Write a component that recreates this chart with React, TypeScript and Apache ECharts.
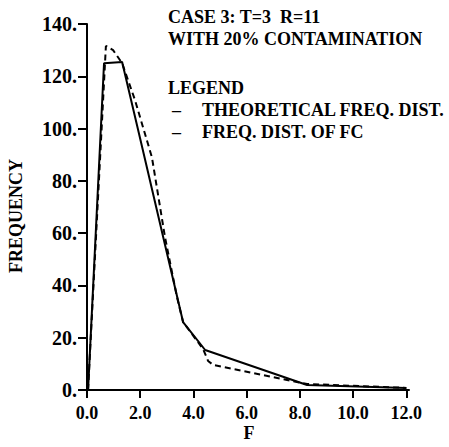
import React, { useEffect, useRef } from "react";
import * as echarts from "echarts";

// Theoretical frequency distribution (solid)
const theoF = [0.04, 0.64, 1.32, 1.99, 3.61, 4.44, 8.27, 12.0];
const theoFreq = [0, 125, 125.5, 96.5, 26, 15.3, 1.9, 0.8];

// Frequency distribution of FC (dashed)
const fcF = [0.04, 0.71, 0.98, 1.32, 1.8, 2.44, 2.93, 3.38, 3.61, 4.36, 4.55, 4.74, 8.27, 12.0];
const fcFreq = [0, 131.6, 130, 125, 111, 89, 58.5, 35.6, 26, 15.7, 11.1, 9.6, 2.3, 0.8];

const xTicks = [0, 2, 4, 6, 8, 10, 12];
const titleLines = ["CASE 3: T=3  R=11", "WITH 20% CONTAMINATION"];
const legendTitle = "LEGEND";
const legendItems = ["THEORETICAL FREQ. DIST.", "FREQ. DIST. OF FC"];
const yName = "FREQUENCY";
const xName = "F";

const FONT = "Liberation Serif";

export default function App() {
  const ref = useRef<HTMLDivElement>(null);
  useEffect(() => {
    if (!ref.current) return;
    const chart = echarts.init(ref.current, null, { renderer: "svg" });
    const txt = (text: string, x: number, y: number, extra: any = {}) => ({
      type: "text",
      x,
      y,
      ...extra,
      style: {
        text,
        fill: "#000",
        font: `bold 18px "${FONT}"`,
        textAlign: extra.align || "left",
        align: extra.align || "left",
        textVerticalAlign: "middle",
        verticalAlign: "middle",
      },
    });
    chart.setOption({
      animation: false,
      backgroundColor: "#fff",
      grid: { left: 87, top: 24, width: 322, height: 366 },
      xAxis: {
        type: "value",
        min: 0,
        max: 12.1,
        axisLine: { show: true, lineStyle: { color: "#000", width: 2 } },
        axisTick: { show: true, length: 8, lineStyle: { color: "#000", width: 2 }, customValues: xTicks },
        axisLabel: {
          customValues: xTicks,
          margin: 14,
          color: "#000",
          fontFamily: FONT,
          fontWeight: "bold",
          fontSize: 18,
          formatter: (v: number) => v.toFixed(1),
        },
        splitLine: { show: false },
      },
      yAxis: {
        type: "value",
        min: 0,
        max: 140,
        interval: 20,
        axisLine: { show: true, lineStyle: { color: "#000", width: 2 } },
        axisTick: { show: true, length: 9, lineStyle: { color: "#000", width: 2 } },
        axisLabel: {
          margin: 10,
          color: "#000",
          fontFamily: FONT,
          fontWeight: "bold",
          fontSize: 20,
          formatter: (v: number) => `${v}.`,
        },
        splitLine: { show: false },
      },
      series: [
        {
          type: "line",
          data: theoF.map((f, i) => [f, theoFreq[i]]),
          showSymbol: false,
          symbol: "none",
          lineStyle: { color: "#000", width: 2 },
          z: 3,
        },
        {
          type: "line",
          data: fcF.map((f, i) => [f, fcFreq[i]]),
          showSymbol: false,
          symbol: "none",
          lineStyle: { color: "#000", width: 2, type: [6, 4] },
          z: 2,
        },
      ],
      graphic: [
        txt(titleLines[0], 168, 17),
        txt(titleLines[1], 168, 39),
        txt(legendTitle, 168, 88),
        txt("–", 172, 110),
        txt(legendItems[0], 202, 110),
        txt("–", 172, 132),
        txt(legendItems[1], 202, 132),
        txt(yName, 16, 216, { rotation: Math.PI / 2, align: "center" }),
        txt(xName, 249, 433, { align: "center" }),
      ],
    });
    return () => chart.dispose();
  }, []);
  return <div ref={ref} style={{ width: 449, height: 447, position: "absolute", left: 0, top: 0 }} />;
}
